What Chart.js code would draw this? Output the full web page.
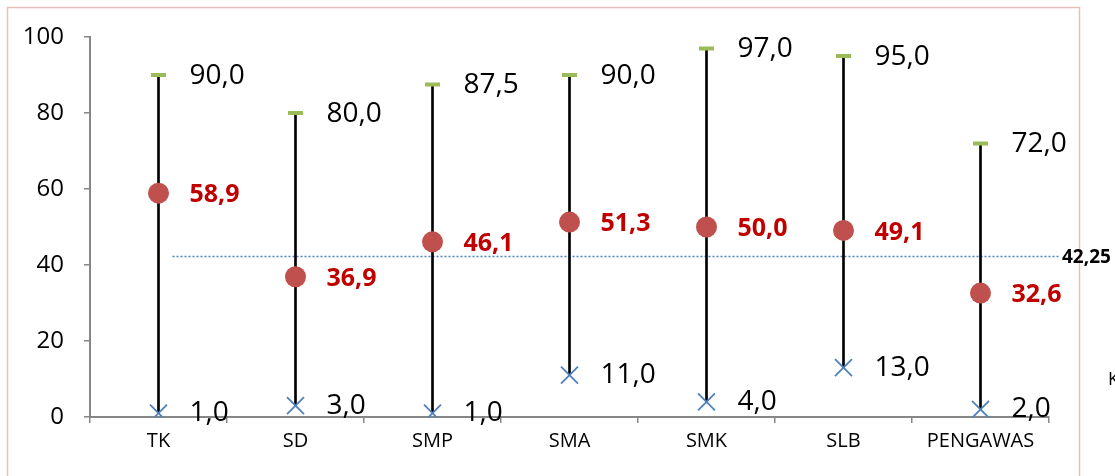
<!DOCTYPE html>
<html>
<head>
<meta charset="utf-8">
<script src="https://cdn.jsdelivr.net/npm/chart.js@4.4.1/dist/chart.umd.min.js"></script>
<style>
  html, body { margin: 0; padding: 0; background: #ffffff; }
  #wrap { position: relative; width: 1115px; height: 476px; }
</style>
</head>
<body>
<div id="wrap"><canvas id="c" width="1115" height="476"></canvas></div>
<script>
// Kategori jenjang
const categories = ['TK', 'SD', 'SMP', 'SMA', 'SMK', 'SLB', 'PENGAWAS'];
// Nilai tertinggi, terendah dan rata-rata
const maxValues = [90.0, 80.0, 87.5, 90.0, 97.0, 95.0, 72.0];
const minValues = [1.0, 3.0, 1.0, 11.0, 4.0, 13.0, 2.0];
const meanValues = [58.9, 36.9, 46.1, 51.3, 50.0, 49.1, 32.6];
// Rata-rata keseluruhan
const overallAverage = 42.25;
// Label sumbu Y
const yTicks = [0, 20, 40, 60, 80, 100];

const fmt = v => v.toFixed(1).replace('.', ',');
const fmt2 = v => v.toFixed(2).replace('.', ',');
const FONT = '"Open Sans", "Noto Sans", sans-serif';

// Panel border and the dotted overall-average line
const framePlugin = {
  id: 'frame',
  beforeDraw(chart) {
    const ctx = chart.ctx;
    ctx.save();
    ctx.fillStyle = '#ffffff';
    ctx.fillRect(0, 0, chart.width, chart.height);
    ctx.strokeStyle = '#EDBDBD';
    ctx.lineWidth = 1.5;
    ctx.strokeRect(7.5, 7.5, 1072, 490);
    ctx.restore();
  },
  beforeDatasetsDraw(chart) {
    const ctx = chart.ctx;
    const x = chart.scales.x, y = chart.scales.y;
    const py = Math.round(y.getPixelForValue(overallAverage)) + 0.5;
    const x0 = x.getPixelForValue(0) + 14;
    const x1 = x.right + 11;
    ctx.save();
    ctx.strokeStyle = '#4F81BD';
    ctx.lineWidth = 1.5;
    ctx.setLineDash([2, 2]);
    ctx.beginPath();
    ctx.moveTo(x0, py);
    ctx.lineTo(x1, py);
    ctx.stroke();
    ctx.setLineDash([]);
    ctx.fillStyle = '#000000';
    ctx.font = 'bold 19px ' + FONT;
    ctx.textBaseline = 'middle';
    ctx.textAlign = 'left';
    ctx.fillText(fmt2(overallAverage), x1 + 2, py + 1);
    ctx.font = '18px ' + FONT;
    ctx.fillText('K', 1108, 380);
    ctx.restore();
  }
};

// Value labels beside each marker
const labelPlugin = {
  id: 'valueLabels',
  afterDatasetsDraw(chart) {
    const ctx = chart.ctx;
    ctx.save();
    ctx.textBaseline = 'middle';
    ctx.textAlign = 'left';
    const specs = [
      { ds: 1, font: '28px ' + FONT, color: '#000000', dy: 1 },
      { ds: 2, font: '28px ' + FONT, color: '#000000', dy: 0 },
      { ds: 3, font: 'bold 25px ' + FONT, color: '#C00000', dy: 2 }
    ];
    specs.forEach(s => {
      const meta = chart.getDatasetMeta(s.ds);
      const data = chart.data.datasets[s.ds].data;
      ctx.font = s.font;
      ctx.fillStyle = s.color;
      meta.data.forEach((pt, i) => {
        ctx.fillText(fmt(data[i]), pt.x + 31, pt.y + s.dy);
      });
    });
    ctx.restore();
  }
};

new Chart(document.getElementById('c'), {
  data: {
    labels: categories,
    datasets: [
      {
        type: 'bar',
        label: 'Rentang',
        data: minValues.map((m, i) => [m, maxValues[i]]),
        backgroundColor: '#000000',
        barThickness: 2,
        order: 4
      },
      {
        type: 'line',
        label: 'Tertinggi',
        data: maxValues,
        showLine: false,
        pointStyle: 'line',
        pointRadius: 7.5,
        pointBorderWidth: 4,
        pointBorderColor: '#9BBB59',
        pointBackgroundColor: '#9BBB59',
        order: 1
      },
      {
        type: 'line',
        label: 'Terendah',
        data: minValues,
        showLine: false,
        pointStyle: 'crossRot',
        pointRadius: 12,
        pointBorderWidth: 1.8,
        pointBorderColor: '#4F81BD',
        order: 2
      },
      {
        type: 'line',
        label: 'Rata-rata',
        data: meanValues,
        showLine: false,
        pointStyle: 'circle',
        pointRadius: 10.5,
        pointBorderWidth: 0,
        pointBackgroundColor: '#C0504D',
        order: 3
      }
    ]
  },
  options: {
    responsive: false,
    animation: false,
    events: [],
    layout: { padding: { left: 0, right: 66, top: 37, bottom: 0 } },
    plugins: { legend: { display: false }, tooltip: { enabled: false } },
    scales: {
      x: {
        type: 'category',
        offset: true,
        grid: {
          offset: true,
          drawOnChartArea: false,
          drawTicks: true,
          tickLength: 6,
          color: '#868686',
          lineWidth: 1.5
        },
        border: { color: '#868686', width: 2 },
        ticks: {
          color: '#000000',
          font: { family: FONT, size: 20 },
          padding: 6,
          maxRotation: 0,
          autoSkip: false
        },
        afterFit(scale) { scale.height = 59; }
      },
      y: {
        min: 0,
        max: 100,
        afterBuildTicks(scale) { scale.ticks = yTicks.map(v => ({ value: v })); },
        grid: {
          drawOnChartArea: false,
          drawTicks: true,
          tickLength: 6,
          color: '#868686',
          lineWidth: 1.5
        },
        border: { color: '#868686', width: 2 },
        ticks: {
          color: '#000000',
          font: { family: FONT, size: 24 },
          padding: 20
        },
        afterFit(scale) { scale.width = 90; }
      }
    }
  },
  plugins: [framePlugin, labelPlugin]
});
</script>
</body>
</html>
